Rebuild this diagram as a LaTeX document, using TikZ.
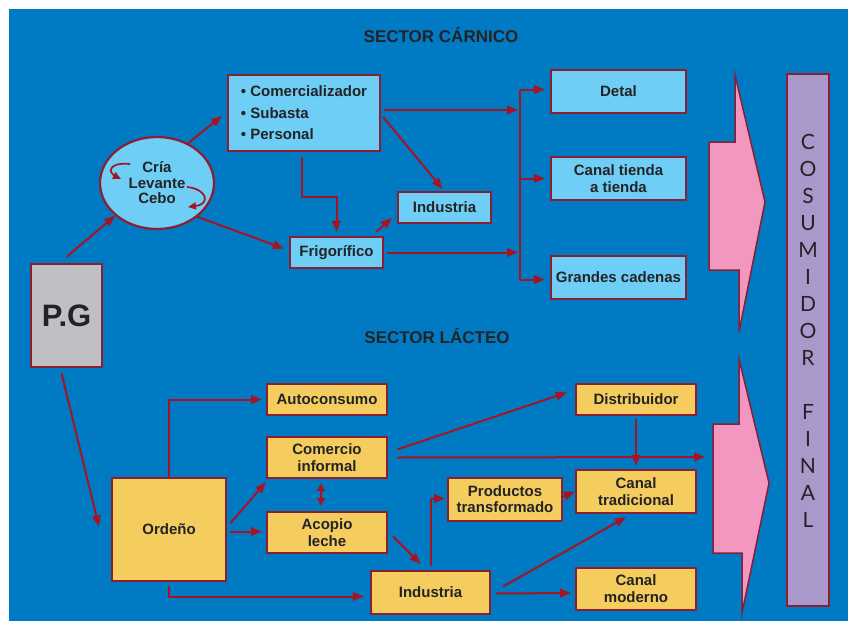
\documentclass[tikz,border=0pt]{standalone}
\usepackage{fontspec}
\setmainfont{Liberation Sans}
\newfontfamily\latofont{Lato}
\usetikzlibrary{shapes.geometric,arrows.meta,calc}
\definecolor{bgblue}{RGB}{0,122,194}
\definecolor{lblue}{RGB}{110,206,245}
\definecolor{ylw}{RGB}{244,205,94}
\definecolor{pgray}{RGB}{192,192,196}
\definecolor{pinkc}{RGB}{242,152,192}
\definecolor{purp}{RGB}{170,152,202}
\definecolor{bord}{RGB}{140,30,50}
\definecolor{arrc}{RGB}{165,20,35}
\definecolor{txtc}{RGB}{35,35,38}
\tikzset{
  box/.style={draw=bord, line width=2.2pt, inner sep=0pt, align=center, text=txtc,
    font=\fontsize{15}{17}\selectfont\bfseries},
  lb/.style={box, fill=lblue},
  yb/.style={box, fill=ylw},
  arr/.style={draw=arrc, line width=2pt, -{Triangle[length=11pt,width=8.5pt]}},
  darr/.style={draw=arrc, line width=2pt, {Triangle[length=8pt,width=8pt]}-{Triangle[length=8pt,width=8pt]}},
  carr/.style={draw=arrc, line width=1.7pt, -{Triangle[length=8pt,width=7pt]}},
  lin/.style={draw=arrc, line width=2pt},
  ttl/.style={text=txtc, font=\fontsize{17}{20}\selectfont\bfseries},
  pinkarrow/.style={fill=pinkc, draw=bord, line width=1.5pt, line join=miter},
}
\begin{document}
\begin{tikzpicture}[x=1pt,y=-1pt]
\useasboundingbox (0,0) rectangle (848,621);
\fill[white] (0,0) rectangle (848,621);
\fill[bgblue] (9,9) rectangle (848,621);

% titles
\node[ttl] (t1) at (441,35) {SECTOR CÁRNICO};
\node[ttl] (t2) at (437,336) {SECTOR LÁCTEO};

% P.G
\node[box, fill=pgray, minimum width=71pt, minimum height=103pt,
  font=\fontsize{31}{34}\selectfont\bfseries] (pg) at (66.5,315.5) {P.G};

% top sector
\node[lb, ellipse, minimum width=114pt, minimum height=92pt,
  font=\fontsize{15}{15.5}\selectfont\bfseries] (ell) at (157,183) {Cría\\Levante\\Cebo};
\node[lb, minimum width=152pt, minimum height=76pt, align=left,
  font=\fontsize{15}{21.5}\selectfont\bfseries] (com) at (304,113)
  {• Comercializador\\• Subasta\\• Personal};
\node[lb, minimum width=93pt, minimum height=31pt] (frig) at (336.5,252.5) {Frigorífico};
\node[lb, minimum width=93pt, minimum height=31pt] (indA) at (444.5,207.5) {Industria};
\node[lb, minimum width=135pt, minimum height=43pt] (detal) at (618.5,91.5) {Detal};
\node[lb, minimum width=135pt, minimum height=43pt] (canalt) at (618.5,178.5) {Canal tienda\\a tienda};
\node[lb, minimum width=135pt, minimum height=43pt] (grandes) at (618.5,277.5) {Grandes cadenas};

% bottom sector
\node[yb, minimum width=114pt, minimum height=103pt] (orden) at (169,529.5) {Ordeño};
\node[yb, minimum width=120pt, minimum height=31pt] (auto) at (327,399.5) {Autoconsumo};
\node[yb, minimum width=120pt, minimum height=41pt] (comi) at (327,457.5) {Comercio\\informal};
\node[yb, minimum width=120pt, minimum height=41pt] (acop) at (327,532.5) {Acopio\\leche};
\node[yb, minimum width=119pt, minimum height=43pt] (indB) at (430.5,592.5) {Industria};
\node[yb, minimum width=114pt, minimum height=43pt, font=\fontsize{15}{16}\selectfont\bfseries] (prod) at (505,499.5) {Productos\\transformado};
\node[yb, minimum width=120pt, minimum height=31pt] (dist) at (636,399.5) {Distribuidor};
\node[yb, minimum width=120pt, minimum height=43pt] (ctrad) at (636,491.5) {Canal\\tradicional};
\node[yb, minimum width=120pt, minimum height=42pt] (cmod) at (636,589) {Canal\\moderno};

% pink arrows
\filldraw[pinkarrow] (709,142) -- (735,142) -- (735,75) -- (765,202) -- (739,332) -- (739,270) -- (709,270) -- cycle;
\filldraw[pinkarrow] (713,424) -- (739,424) -- (739,359) -- (769,483) -- (742,613) -- (742,553) -- (713,553) -- cycle;

% consumer bar
\node[box, fill=purp, minimum width=42pt, minimum height=532pt, line width=1.8pt] (cons) at (808,340) {};
\node[text=txtc, align=center, font=\latofont\fontsize{21}{27}\selectfont] (vt) at (808,331)
  {C\\O\\S\\U\\M\\I\\D\\O\\R\\[27pt]F\\I\\N\\A\\L};

% helper coordinates
\coordinate (bx) at (520,0);
\coordinate (pkin) at (705,457);

% top connectors
\draw[arr] ($(pg.north)+(0,-6)$) -- (ell.218);
\draw[arr] (ell.52) -- ($(com.west)+(-5,3)$);
\draw[arr] (ell.-40) -- ($(frig.west)+(-5,-4)$);
\draw[arr] ($(com.south)+(-2,5)$) -- ++(0,40) -| ($(frig.north)+(0,-4)$);
\draw[arr] ($(com.east)+(2,4)$) -- ($(indA.north)+(-2,-2)$);
\draw[arr] ($(com.east)+(3,-3)$) -- ($(bx|-com.east)+(-2,-3)$);
\draw[arr] ($(frig.east)+(3,0)$) -- ($(bx|-frig.east)+(-2,0)$);
\draw[arr] ($(frig.north east)+(-8,-4)$) -- ($(indA.south west)+(-5,-6)$);
\draw[lin] ($(bx|-detal.west)+(0,-2)$) -- ($(bx|-grandes.west)+(0,2)$);
\draw[arr] ($(bx|-detal.west)+(0,-2)$) -- ($(detal.west)+(-5,-2)$);
\draw[arr] ($(bx|-canalt.west)+(0,0)$) -- ($(canalt.west)+(-5,0)$);
\draw[arr] ($(bx|-grandes.west)+(0,2)$) -- ($(grandes.west)+(-5,2)$);

% cycle arrows in ellipse
\draw[carr] ($(ell)+(-27,-19)$) .. controls ($(ell)+(-50,-21)$) and ($(ell)+(-48,-10)$) .. ($(ell)+(-36,-4)$);
\draw[carr] ($(ell)+(30,4)$) .. controls ($(ell)+(50,6)$) and ($(ell)+(54,21)$) .. ($(ell)+(31,24)$);

% bottom connectors
\draw[arr] ($(pg.south)+(-5,5)$) -- ($(orden.west)+(-12,-3)$);
\draw[arr] (orden.north) |- ($(auto.west)+(-4,0)$);
\draw[arr] ($(orden.east)+(3,-6)$) -- ($(comi.south west)+(0,3)$);
\draw[arr] ($(orden.east|-acop.west)+(3,-1)$) -- ($(acop.west)+(-4,-1)$);
\draw[arr] ($(orden.south)+(0,4)$) |- ($(indB.west)+(-6,4)$);
\draw[darr] ($(comi.south)+(-6,4)$) -- ($(acop.north)+(-6,-5)$);
\draw[arr] ($(acop.east)+(5,4)$) -- ($(indB.north)+(-10,-6)$);
\draw[arr] ($(indB.north)+(0,-4)$) |- ($(prod.west)+(-2,-1)$);
\draw[arr] ($(prod.east)+(-2,-2)$) -- ($(ctrad.west)+(0,0)$);
\draw[arr] ($(comi.east)+(9,-8)$) -- ($(dist.west)+(-8,-7)$);
\draw[arr] ($(dist.south)+(0,3)$) -- ($(ctrad.north)+(0,-3)$);
\draw[arr] ($(comi.east)+(9,0)$) -- (pkin);
\draw[arr] ($(indB.east)+(12,-6)$) -- ($(ctrad.south)+(-10,3)$);
\draw[arr] ($(indB.east)+(5,1)$) -- ($(cmod.west)+(-4,4)$);
\end{tikzpicture}
\end{document}
